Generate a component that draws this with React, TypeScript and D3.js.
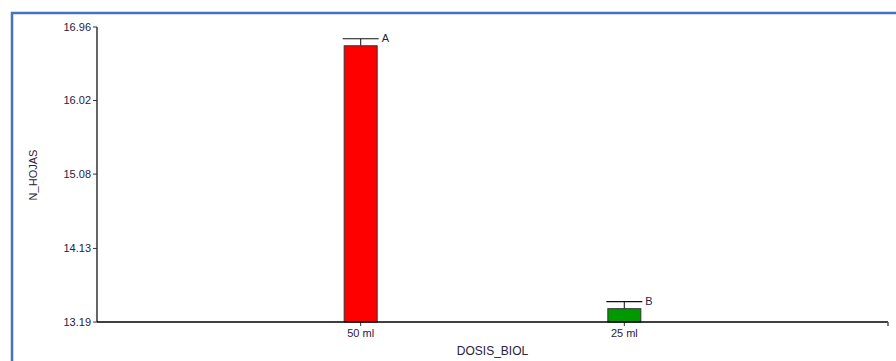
import React from "react";
import * as d3 from "d3";

const categories = ["50 ml", "25 ml"];
const means = [16.72, 13.36];
const errors = [0.09, 0.09];
const letters = ["A", "B"];
const colors = ["#ff0000", "#009900"];
const yTicks = [13.19, 14.13, 15.08, 16.02, 16.96];

export default function App() {
  const W = 896, H = 361;
  const x0 = 97, x1 = 888, yTop = 27, yBot = 322;
  const x = d3.scalePoint<string>().domain(categories).range([x0, x1]).padding(1);
  const y = d3.scaleLinear().domain([13.19, 16.96]).range([yBot, yTop]);
  const bw = 33;
  const font = "Arial, 'Liberation Sans', sans-serif";
  return (
    <svg width={W} height={H} style={{ position: "absolute", left: 0, top: 0 }} fontFamily={font}>
      <rect x={0} y={0} width={W} height={H} fill="#fff" />
      <path d={`M12,${H} V13 H${W}`} fill="none" stroke="#4472c4" strokeWidth={2.5} />
      {/* y axis */}
      <line x1={x0} x2={x0} y1={yTop} y2={yBot} stroke="#333" strokeWidth={1.5} />
      {yTicks.map((t) => (
        <g key={t}>
          <line x1={x0 - 4} x2={x0} y1={y(t)} y2={y(t)} stroke="#333" />
          <text x={x0 - 6} y={y(t)} dy="0.35em" textAnchor="end" fontSize={11} fill="#2a2040">
            {t.toFixed(2)}
          </text>
        </g>
      ))}
      <text transform={`translate(37,175) rotate(-90)`} textAnchor="middle" fontSize={11} fill="#2a2040">
        N_HOJAS
      </text>
      {/* bars */}
      {categories.map((c, i) => {
        const cx = x(c)!;
        const top = y(means[i]);
        const et = y(means[i] + errors[i]);
        return (
          <g key={c}>
            <rect x={cx - bw / 2} y={top} width={bw} height={yBot - top} fill={colors[i]} stroke="#333" strokeWidth={1} />
            <line x1={cx} x2={cx} y1={et} y2={top} stroke="#333" strokeWidth={1.2} />
            <line x1={cx - 18} x2={cx + 18} y1={et} y2={et} stroke="#111" strokeWidth={1.2} />
            <text x={cx + 21} y={et} dy="0.3em" fontSize={11} fill="#2a2040">{letters[i]}</text>
            <line x1={cx} x2={cx} y1={yBot} y2={yBot + 4} stroke="#333" />
            <text x={cx} y={yBot + 15} textAnchor="middle" fontSize={11} fill="#2a2040">{c}</text>
          </g>
        );
      })}
      {/* x axis */}
      <line x1={x0} x2={x1} y1={yBot} y2={yBot} stroke="#000" strokeWidth={1.5} />
      <line x1={x1} x2={x1} y1={yBot} y2={yBot + 4} stroke="#555" strokeWidth={1.5} />
      <text x={(x0 + x1) / 2} y={355} textAnchor="middle" fontSize={12} fill="#2a2040">DOSIS_BIOL</text>
    </svg>
  );
}
